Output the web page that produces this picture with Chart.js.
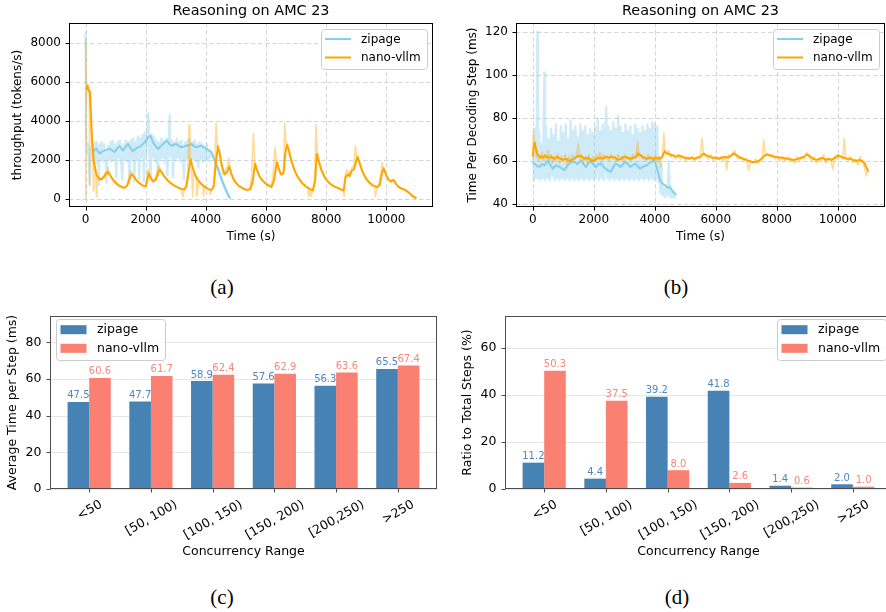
<!DOCTYPE html>
<html>
<head>
<meta charset="utf-8">
<script src="https://cdn.jsdelivr.net/npm/chart.js@4.4.1/dist/chart.umd.min.js"></script>
<style>
  html, body { margin: 0; padding: 0; background: #fff; overflow: hidden; }
  #fig { position: relative; width: 886px; height: 612px; overflow: hidden; background: #fff; }
  #fig canvas { position: absolute; }
  .cap { position: absolute; font-family: "Liberation Serif", "Times New Roman", serif; font-size: 21px;
         color: #000; transform: translate(-50%, -50%); line-height: 1; }
</style>
</head>
<body>
<div id="fig">
  <canvas id="thr" width="443" height="250" style="left:0;top:0"></canvas>
  <canvas id="step" width="443" height="250" style="left:443px;top:0"></canvas>
  <canvas id="avg" width="443" height="270" style="left:0;top:300px"></canvas>
  <canvas id="share" width="460" height="270" style="left:443px;top:300px"></canvas>
  <div class="cap" style="left:222px;top:287px">(a)</div>
  <div class="cap" style="left:676px;top:287px">(b)</div>
  <div class="cap" style="left:222px;top:597px">(c)</div>
  <div class="cap" style="left:677px;top:597px">(d)</div>
</div>
<script>
// ---------- throughput (tokens/s) over time (s) ----------
const zipThrRaw = [[0,8600],[20,3200],[50,2300],[80,2800],[110,1900],[140,700],[170,2600],[200,2000],[230,2900],[260,1900],[290,2800],[320,2100],[350,2900],[380,1800],[410,2700],[440,700],[470,2800],[500,2000],[540,2900],[580,1900],[620,2800],[660,2100],[700,800],[740,2700],[780,2000],[820,2900],[860,1900],[900,3000],[940,2000],[980,2800],[1020,1100],[1060,2900],[1100,2100],[1140,3000],[1180,1900],[1220,1000],[1260,2800],[1300,2000],[1340,3000],[1380,1900],[1420,2900],[1460,800],[1500,3000],[1540,2000],[1580,3100],[1620,900],[1660,2900],[1700,2000],[1740,3200],[1780,1000],[1820,3100],[1860,2100],[1900,3300],[1940,900],[1980,3400],[2020,2200],[2060,3800],[2090,4400],[2120,2300],[2160,900],[2200,3300],[2240,2100],[2280,3200],[2320,1900],[2360,3000],[2400,1200],[2440,2900],[2480,2000],[2520,3100],[2560,2100],[2600,3000],[2640,1900],[2680,3100],[2720,1200],[2760,2900],[2800,4300],[2830,2100],[2870,3000],[2910,1100],[2950,2900],[2990,2000],[3030,3100],[3070,2100],[3110,2900],[3150,1900],[3190,3000],[3230,2100],[3270,1000],[3310,2900],[3350,2000],[3390,3000],[3430,2100],[3470,3100],[3510,1900],[3550,2900],[3590,2000],[3630,3000],[3670,1900],[3710,2800],[3750,1600],[3790,2900],[3830,2000],[3870,2800],[3910,1900],[3950,2700],[3990,2000],[4030,2800],[4070,1900],[4110,2500],[4150,2100],[4200,2300],[4300,1900],[4400,1500],[4500,1000],[4600,600],[4700,250],[4800,0]];
const zipThrSmooth = [[200,2400],[244,2380],[300,2500],[356,2570],[410,2450],[467,2330],[550,2420],[633,2470],[720,2520],[800,2570],[880,2480],[967,2400],[1050,2560],[1133,2720],[1244,2470],[1330,2650],[1411,2810],[1500,2600],[1578,2430],[1660,2560],[1744,2640],[1830,2700],[1911,2810],[2000,2950],[2078,3160],[2156,3240],[2244,2890],[2330,2700],[2411,2550],[2500,2700],[2578,2810],[2640,2900],[2711,2980],[2780,2820],[2856,2720],[2940,2780],[3022,2810],[3100,2700],[3189,2640],[3270,2680],[3356,2720],[3440,2760],[3522,2810],[3600,2700],[3689,2640],[3770,2690],[3856,2720],[3940,2620],[4022,2550],[4100,2480],[4189,2380],[4300,1950],[4380,1650],[4467,1270],[4550,900],[4633,580],[4720,280],[4800,0]];
const nanoThrRaw = [[0,0],[8,8200],[25,4800],[50,5900],[75,5500],[100,5800],[125,5400],[135,700],[150,5500],[180,4300],[210,3300],[240,2400],[260,400],[280,2000],[310,1600],[340,1300],[360,100],[380,1200],[420,1100],[460,950],[500,1050],[540,950],[580,1150],[620,1050],[660,1350],[700,1200],[744,1600],[790,1250],[840,1150],[900,900],[960,850],[1020,750],[1080,700],[1140,620],[1200,650],[1260,550],[1320,600],[1380,700],[1440,1100],[1500,1450],[1540,1300],[1600,1150],[1660,1050],[1720,850],[1800,800],[1860,700],[1930,650],[2000,600],[2040,1200],[2080,1500],[2120,1200],[2180,1050],[2240,850],[2300,1000],[2360,1300],[2440,1700],[2490,1400],[2550,1300],[2620,1100],[2700,1000],[2780,850],[2860,750],[2940,700],[3020,600],[3100,550],[3180,500],[3240,80],[3280,500],[3340,700],[3400,1500],[3440,3800],[3470,2100],[3520,1900],[3560,100],[3600,1400],[3680,1100],[3700,100],[3760,900],[3840,750],[3900,650],[3920,150],[3980,600],[4060,500],[4120,450],[4150,200],[4200,500],[4260,700],[4300,1900],[4340,3900],[4380,2600],[4440,2500],[4500,1800],[4560,1300],[4620,1200],[4660,1500],[4720,1700],[4760,2100],[4800,1500],[4860,1200],[4920,900],[4990,800],[5060,700],[5140,600],[5220,550],[5300,500],[5380,400],[5450,500],[5520,1100],[5580,3350],[5620,1900],[5680,1600],[5740,1300],[5820,1000],[5900,900],[5980,750],[6060,700],[6140,600],[6220,1000],[6300,2650],[6340,2000],[6400,1800],[6460,1300],[6520,1200],[6580,1400],[6620,3900],[6660,2900],[6700,2800],[6760,2600],[6820,2100],[6900,1700],[6980,1300],[7060,1100],[7140,900],[7220,750],[7300,650],[7380,550],[7420,100],[7470,500],[7500,120],[7560,450],[7620,1200],[7660,3800],[7700,2400],[7760,2000],[7820,1600],[7900,1300],[7980,1000],[8060,900],[8140,750],[8220,700],[8300,600],[8400,550],[8480,500],[8560,450],[8600,100],[8640,1300],[8680,1500],[8720,1200],[8760,1400],[8800,1200],[8860,1600],[8920,1700],[8970,2700],[9010,2200],[9060,2000],[9120,1700],[9200,1400],[9280,1100],[9360,900],[9440,800],[9520,700],[9600,650],[9640,100],[9700,600],[9760,800],[9820,1300],[9860,1850],[9900,1500],[9960,1400],[10020,1100],[10080,1000],[10140,900],[10200,1000],[10260,950],[10320,750],[10400,650],[10480,550],[10560,500],[10640,450],[10720,350],[10800,250],[10880,150],[10960,60],[11000,30]];
const nanoThrSmooth = [[30,5600],[60,5800],[100,5600],[140,5500],[170,4600],[200,3500],[240,2500],[300,1700],[360,1250],[430,1050],[500,980],[580,1050],[660,1250],[744,1380],[800,1250],[880,1050],[980,850],[1100,680],[1200,600],[1300,560],[1380,650],[1450,950],[1522,1250],[1580,1200],[1660,1000],[1780,800],[1900,680],[2000,640],[2060,1000],[2100,1300],[2160,1100],[2240,900],[2330,950],[2400,1250],[2467,1500],[2530,1350],[2620,1150],[2720,950],[2830,800],[2940,680],[3060,580],[3180,500],[3280,470],[3350,600],[3420,1300],[3489,2040],[3540,1700],[3620,1300],[3720,1000],[3830,780],[3950,620],[4070,500],[4180,440],[4260,600],[4330,1800],[4400,2690],[4450,2400],[4530,1700],[4620,1250],[4700,1350],[4778,1660],[4840,1300],[4940,950],[5060,700],[5200,550],[5340,450],[5480,480],[5560,900],[5633,1800],[5690,1500],[5780,1150],[5900,900],[6040,720],[6180,600],[6260,900],[6356,1870],[6410,1600],[6500,1250],[6580,1300],[6640,2300],[6690,2780],[6750,2500],[6850,1900],[6960,1400],[7080,1050],[7200,800],[7330,620],[7450,500],[7560,430],[7630,900],[7689,2300],[7740,2000],[7830,1500],[7950,1100],[8080,830],[8220,660],[8380,550],[8520,450],[8580,420],[8640,1100],[8720,1250],[8780,1150],[8850,1450],[8920,1500],[8990,1900],[9044,2150],[9100,1900],[9200,1400],[9320,1050],[9450,800],[9580,650],[9700,600],[9780,700],[9850,1300],[9911,1560],[9970,1300],[10060,1000],[10150,880],[10244,950],[10300,800],[10400,600],[10500,520],[10620,450],[10750,300],[10880,120],[11000,20]];

// ---------- time per decoding step (ms) over time (s) ----------
const zipStepRaw = [[0,59],[20,62],[40,51],[80,75],[120,52],[150,120],[170,52],[210,74],[250,51],[290,68],[330,52],[380,101],[400,51],[440,76],[480,52],[520,70],[560,51],[600,75],[640,53],[680,72],[720,51],[760,77],[800,52],[840,69],[880,51],[920,76],[960,52],[1000,73],[1040,51],[1080,77],[1120,52],[1160,70],[1200,51],[1240,79],[1280,52],[1320,74],[1360,51],[1400,76],[1440,52],[1480,71],[1520,51],[1560,77],[1600,52],[1640,74],[1680,51],[1720,76],[1760,52],[1800,72],[1840,51],[1880,75],[1920,52],[1960,73],[2000,51],[2040,76],[2080,52],[2130,80],[2170,51],[2210,74],[2250,52],[2290,77],[2330,51],[2370,73],[2410,85],[2440,52],[2480,76],[2520,51],[2560,74],[2600,52],[2640,78],[2680,51],[2720,75],[2760,52],[2800,81],[2840,51],[2880,76],[2920,52],[2960,73],[3000,51],[3040,77],[3080,52],[3120,74],[3160,51],[3200,76],[3240,52],[3280,72],[3320,51],[3360,77],[3400,52],[3440,75],[3480,51],[3520,73],[3560,52],[3600,76],[3640,51],[3680,74],[3720,52],[3760,77],[3800,51],[3840,75],[3880,52],[3920,78],[3960,51],[4000,77],[4040,52],[4080,76],[4120,50],[4150,62],[4180,45],[4220,58],[4260,44],[4300,47],[4340,43],[4380,48],[4420,44],[4460,60],[4500,43],[4540,47],[4580,43],[4620,46],[4660,43],[4700,45]];
const zipStepSmooth = [[0,59],[65,58.8],[150,57.5],[227,57.2],[300,58.5],[389,58],[497,60.3],[580,58],[660,56.4],[760,58],[876,57.2],[960,56.5],[1038,55.7],[1120,57.5],[1200,58.8],[1280,59.5],[1362,59.6],[1460,58.5],[1578,60.3],[1660,58.5],[1740,57.2],[1820,59],[1903,60.3],[1980,58.5],[2065,57.2],[2150,58.5],[2227,58.8],[2310,57.5],[2389,56.4],[2470,55.5],[2551,54.9],[2630,57],[2714,58.8],[2800,58],[2876,57.2],[2960,58.5],[3038,59.6],[3120,58.5],[3200,57.2],[3280,58],[3362,58.8],[3440,57.5],[3524,56.4],[3630,57.5],[3741,58],[3820,59],[3903,59.6],[3980,60.5],[4065,57.2],[4120,54],[4173,51],[4250,49.5],[4335,48.7],[4420,47.5],[4497,47.9],[4580,46],[4659,44.8],[4700,44.5]];
const nanoStepRaw = [[0,62],[20,74],[50,66],[80,69],[110,62],[140,65],[180,60],[220,63],[260,61],[300,64],[350,60],[400,63],[450,61],[500,65],[550,60],[600,63],[650,59],[700,62],[760,60],[820,63],[880,59],[940,62],[1000,60],[1060,63],[1120,58],[1180,62],[1240,60],[1300,63],[1360,61],[1420,62],[1500,68],[1540,61],[1600,63],[1660,59],[1720,62],[1780,60],[1840,63],[1900,59],[1960,62],[2020,60],[2080,63],[2140,61],[2200,64],[2260,60],[2320,63],[2380,61],[2440,62],[2500,60],[2560,63],[2620,61],[2680,62],[2740,60],[2800,63],[2860,61],[2920,62],[2980,60],[3040,63],[3100,61],[3160,62],[3220,60],[3280,63],[3340,61],[3400,64],[3440,69],[3480,62],[3540,63],[3600,61],[3660,62],[3720,60],[3780,63],[3840,61],[3900,62],[3960,60],[4020,63],[4080,60],[4140,62],[4200,57],[4260,65],[4300,73],[4340,64],[4400,63],[4460,65],[4520,62],[4600,63],[4680,61],[4760,63],[4840,61],[4920,62],[5000,60],[5080,62],[5160,61],[5240,62],[5320,60],[5400,62],[5480,61],[5550,70.5],[5600,63],[5680,62],[5760,61],[5840,63],[5920,60],[6000,62],[6080,61],[6160,62],[6240,60],[6300,62],[6360,56],[6420,63],[6500,62],[6560,64],[6620,65],[6680,62],[6760,61],[6840,62],[6920,60],[7000,61],[7080,55.5],[7140,60],[7220,59],[7300,61],[7380,59],[7460,60],[7540,62],[7568,70],[7620,64],[7700,63],[7780,62],[7860,63],[7940,61],[8020,62],[8100,60],[8180,62],[8260,60],[8340,62],[8420,60],[8500,61],[8580,59],[8660,62],[8740,60],[8820,62],[8900,61],[8980,64],[9060,62],[9140,60],[9220,62],[9300,59],[9380,61],[9460,60],[9540,63],[9620,59],[9700,61],[9780,60],[9838,56],[9900,62],[9960,61],[10020,63],[10100,62],[10160,61],[10216,70.5],[10260,62],[10340,60],[10420,62],[10500,59],[10580,61],[10660,58],[10740,62],[10820,59],[10880,57],[10940,53],[11000,56]];
const nanoStepSmooth = [[0,62],[30,66],[60,68.5],[100,66],[150,63],[220,62],[300,61.5],[400,62.5],[500,61.5],[600,62],[700,61],[800,62],[900,61],[1000,60.5],[1100,61],[1200,60],[1300,60.5],[1400,61.5],[1500,62.5],[1600,62],[1700,61],[1800,61.5],[1900,60.5],[2000,60],[2100,61],[2200,61.5],[2300,61],[2400,62],[2500,61.5],[2600,62],[2700,61.5],[2800,60.5],[2900,61],[3000,62],[3100,61.5],[3200,61],[3300,61.5],[3400,62],[3450,63.5],[3550,62.5],[3650,61.5],[3750,61],[3850,61.5],[3950,61],[4050,61.5],[4150,61],[4250,62],[4320,64.5],[4400,63.5],[4500,63],[4600,62.5],[4700,62],[4800,62.5],[4900,62],[5000,61.5],[5100,61],[5200,61.5],[5300,61],[5400,61.5],[5500,62],[5600,63.5],[5700,62.5],[5800,62],[5900,61.5],[6000,61.5],[6100,61],[6200,61.5],[6300,62],[6400,61.5],[6500,62.5],[6600,63.5],[6700,62.5],[6800,61.5],[6900,61],[7000,60.5],[7100,60],[7200,59.5],[7300,59.5],[7400,60],[7500,61],[7600,62.5],[7700,63],[7800,62.5],[7900,62],[8000,62],[8100,61.5],[8200,61.5],[8300,61],[8400,61],[8500,60.5],[8600,60.5],[8700,61],[8800,61.5],[8900,62],[9000,63],[9100,62],[9200,61],[9300,60.5],[9400,61],[9500,61.5],[9600,60.5],[9700,61],[9800,60.5],[9900,61.5],[10000,62.5],[10100,62],[10200,61.5],[10300,61],[10400,61],[10500,60.5],[10600,60],[10700,60.5],[10800,60],[10880,59],[10940,57],[11000,55]];

// ---------- per concurrency range ----------
const ranges = ['<50', '[50, 100)', '[100, 150)', '[150, 200)', '[200,250)', '>250'];
const zipAvgStep = [47.5, 47.7, 58.9, 57.6, 56.3, 65.5];
const nanoAvgStep = [60.6, 61.7, 62.4, 62.9, 63.6, 67.4];
const zipShare = [11.2, 4.4, 39.2, 41.8, 1.4, 2.0];
const nanoShare = [50.3, 37.5, 8.0, 2.6, 0.6, 1.0];

// ---------- tick values ----------
const timeTicks = [0, 2000, 4000, 6000, 8000, 10000];
const thrTicks = [0, 2000, 4000, 6000, 8000];
const stepTicks = [40, 60, 80, 100, 120];
const avgTicks = [0, 20, 40, 60, 80];
const shareTicks = [0, 20, 40, 60];

const FONT = '"DejaVu Sans", "Liberation Sans", sans-serif';
const ZIP = '#87CEEB', ZIP_FADED = 'rgba(135,206,235,0.4)';
const NANO = '#FFA500', NANO_FADED = 'rgba(255,165,0,0.4)';
const STEEL = '#4682B4', SALMON = '#FA8072';

Chart.defaults.font.family = FONT;
Chart.defaults.color = '#000';

const pts = arr => arr.map(([x, y]) => ({ x, y }));
const snap = v => Math.round(v) + 0.5;

function roundBox(ctx, x, y, w, h, r) {
  ctx.beginPath();
  ctx.moveTo(x + r, y);
  ctx.lineTo(x + w - r, y); ctx.arcTo(x + w, y, x + w, y + r, r);
  ctx.lineTo(x + w, y + h - r); ctx.arcTo(x + w, y + h, x + w - r, y + h, r);
  ctx.lineTo(x + r, y + h); ctx.arcTo(x, y + h, x, y + h - r, r);
  ctx.lineTo(x, y + r); ctx.arcTo(x, y, x + r, y, r);
  ctx.closePath();
}

// grid, spines, tick marks, legend, titles and bar annotations
const decor = {
  id: 'decor',
  beforeDatasetsDraw(chart, args, o) {
    const { ctx, chartArea: a, scales: { x, y } } = chart;
    ctx.save();
    ctx.lineWidth = 1;
    ctx.strokeStyle = o.gridColor;
    ctx.setLineDash(o.gridDash || []);
    ctx.beginPath();
    if (o.gridX) x.ticks.forEach(t => { const p = snap(x.getPixelForValue(t.value)); ctx.moveTo(p, a.top); ctx.lineTo(p, a.bottom); });
    y.ticks.forEach(t => { const p = snap(y.getPixelForValue(t.value)); ctx.moveTo(a.left, p); ctx.lineTo(a.right, p); });
    ctx.stroke();
    ctx.restore();
  },
  afterDatasetsDraw(chart, args, o) {
    const { ctx, chartArea: a, scales: { x, y } } = chart;
    const L = Math.round(a.left) + 0.5, R = Math.round(a.right) - 0.5;
    const T = Math.round(a.top) + 0.5, B = Math.round(a.bottom) - 0.5;
    ctx.save();
    // spines
    ctx.strokeStyle = o.spine; ctx.lineWidth = 1; ctx.setLineDash([]);
    ctx.strokeRect(L, T, R - L, B - T);
    // tick marks
    ctx.beginPath();
    const xt = o.catLabels ? o.catLabels.map((_, i) => i) : x.ticks.map(t => t.value);
    xt.forEach(v => { const p = snap(x.getPixelForValue(v)); ctx.moveTo(p, B); ctx.lineTo(p, B + 4); });
    y.ticks.forEach(t => { const p = snap(y.getPixelForValue(t.value)); ctx.moveTo(L, p); ctx.lineTo(L - 4, p); });
    ctx.stroke();

    // value labels above bars
    if (o.valueLabels) {
      ctx.font = `10px ${FONT}`;
      ctx.textAlign = 'center'; ctx.textBaseline = 'alphabetic';
      chart.data.datasets.forEach((ds, di) => {
        ctx.fillStyle = ds.labelColor;
        chart.getDatasetMeta(di).data.forEach((bar, i) => {
          ctx.fillText(ds.data[i].y.toFixed(1), bar.x, bar.y - 3.5);
        });
      });
    }

    // rotated category labels
    if (o.catLabels) {
      const fs = o.fontSize;
      ctx.font = `${fs}px ${FONT}`;
      ctx.fillStyle = '#000';
      ctx.textAlign = 'center'; ctx.textBaseline = 'alphabetic';
      const ang = 30 * Math.PI / 180;
      const top = B + 8;
      o.catLabels.forEach((lab, i) => {
        const w = ctx.measureText(lab).width, h = fs * 1.164;
        const H = w * Math.sin(ang) + h * Math.cos(ang);
        const cx = x.getPixelForValue(i), cy = top + H / 2;
        ctx.save();
        ctx.translate(cx, cy);
        ctx.rotate(-ang);
        ctx.fillText(lab, 0, fs * 0.346);
        ctx.restore();
      });
    }

    // title
    if (o.title) {
      ctx.font = `14.4px ${FONT}`;
      ctx.fillStyle = '#000';
      ctx.textAlign = 'center'; ctx.textBaseline = 'alphabetic';
      ctx.fillText(o.title, (a.left + a.right) / 2, o.titleY);
    }

    // legend
    const lg = o.legend;
    if (lg) {
      roundBox(ctx, lg.x + 0.5, lg.y + 0.5, lg.w, lg.h, 3);
      ctx.fillStyle = 'rgba(255,255,255,0.8)';
      ctx.fill();
      ctx.strokeStyle = '#cccccc'; ctx.lineWidth = 1;
      ctx.stroke();
      ctx.font = `${lg.fs}px ${FONT}`;
      ctx.textAlign = 'left'; ctx.textBaseline = 'middle';
      lg.items.forEach((it, i) => {
        const cy = lg.rows[i];
        if (lg.kind === 'line') {
          ctx.strokeStyle = it.color; ctx.lineWidth = 2;
          ctx.beginPath(); ctx.moveTo(lg.hx0, cy); ctx.lineTo(lg.hx1, cy); ctx.stroke();
        } else {
          ctx.fillStyle = it.color;
          ctx.fillRect(lg.hx0, cy - 4.5, lg.hx1 - lg.hx0, 9);
        }
        ctx.fillStyle = '#000';
        ctx.fillText(it.label, lg.tx, cy + 0.5);
      });
    }
    ctx.restore();
  }
};

function lineChart(id, c) {
  const canvas = document.getElementById(id);
  const W = canvas.width, H = canvas.height;
  return new Chart(canvas, {
    type: 'line',
    data: {
      datasets: [
        { label: 'zipage', data: pts(c.zipRaw), borderColor: ZIP_FADED, borderWidth: 2.3, order: 4 },
        { label: 'zipage', data: pts(c.zipSmooth), borderColor: ZIP, borderWidth: 2, order: 3 },
        { label: 'nano-vllm', data: pts(c.nanoRaw), borderColor: NANO_FADED, borderWidth: 1.6, order: 2 },
        { label: 'nano-vllm', data: pts(c.nanoSmooth), borderColor: NANO, borderWidth: 2, order: 1 }
      ]
    },
    options: {
      responsive: false, animation: false, events: [],
      layout: { padding: { left: 0, top: c.area.top, right: W - c.area.right, bottom: 0 } },
      elements: { point: { radius: 0 }, line: { tension: 0, fill: false, borderJoinStyle: 'round', borderCapStyle: 'butt' } },
      plugins: {
        legend: { display: false }, tooltip: { enabled: false },
        decor: {
          gridColor: '#d6d6d6', gridDash: [4.5, 2.5], gridX: true, spine: '#000',
          title: 'Reasoning on AMC 23', titleY: 15,
          legend: {
            kind: 'line', fs: 12, x: c.legendX, y: 29, w: 106, h: 40, rows: [39, 57.5],
            hx0: c.legendX + 4, hx1: c.legendX + 30, tx: c.legendX + 40,
            items: [{ label: 'zipage', color: ZIP }, { label: 'nano-vllm', color: NANO }]
          }
        }
      },
      scales: {
        x: {
          type: 'linear', min: -550, max: 11550,
          afterFit: s => { s.height = H - c.area.bottom; },
          afterBuildTicks: s => { s.ticks = timeTicks.map(v => ({ value: v })); },
          grid: { display: false, drawTicks: false }, border: { display: false },
          ticks: { padding: 6, maxRotation: 0, autoSkip: false, color: '#000', font: { size: 12 }, callback: v => String(v) },
          title: { display: true, text: 'Time (s)', color: '#000', font: { size: 12 }, padding: { top: 0, bottom: 5.8 } }
        },
        y: {
          type: 'linear', min: c.yMin, max: c.yMax,
          afterFit: s => { s.width = c.area.left; },
          afterBuildTicks: s => { s.ticks = c.yTicks.map(v => ({ value: v })); },
          grid: { display: false, drawTicks: false }, border: { display: false },
          ticks: { padding: 8, autoSkip: false, color: '#000', font: { size: 12 }, callback: v => String(v) },
          title: { display: true, text: c.yTitle, color: '#000', font: { size: 12 }, padding: { top: c.yTitlePad, bottom: 0 } }
        }
      }
    },
    plugins: [decor]
  });
}

function barChart(id, c) {
  const canvas = document.getElementById(id);
  const W = canvas.width, H = canvas.height;
  const toPts = vals => vals.map((v, i) => ({ x: i, y: v }));
  return new Chart(canvas, {
    type: 'bar',
    data: {
      datasets: [
        { label: 'zipage', data: toPts(c.zip), backgroundColor: STEEL, labelColor: '#4f87bd', borderWidth: 0, categoryPercentage: 0.7, barPercentage: 1.0 },
        { label: 'nano-vllm', data: toPts(c.nano), backgroundColor: SALMON, labelColor: '#f9877a', borderWidth: 0, categoryPercentage: 0.7, barPercentage: 1.0 }
      ]
    },
    options: {
      responsive: false, animation: false, events: [],
      layout: { padding: { left: 0, top: c.area.top, right: W - c.area.right, bottom: 0 } },
      plugins: {
        legend: { display: false }, tooltip: { enabled: false },
        decor: {
          gridColor: '#e6e6e6', gridDash: [], gridX: false, spine: '#4d4d4d',
          valueLabels: true, catLabels: ranges, fontSize: 12.5,
          legend: {
            kind: 'patch', fs: 12.5, x: c.legendX, y: 19, w: 109, h: 41, rows: [29.7, 48.3],
            hx0: c.legendX + 4.5, hx1: c.legendX + 30.5, tx: c.legendX + 41,
            items: [{ label: 'zipage', color: STEEL }, { label: 'nano-vllm', color: SALMON }]
          }
        }
      },
      scales: {
        x: {
          type: 'linear', min: -0.635, max: 5.635, offset: false,
          afterFit: s => { s.height = H - c.area.bottom; },
          afterBuildTicks: s => { s.ticks = ranges.map((_, i) => ({ value: i })); },
          grid: { display: false, drawTicks: false, offset: false }, border: { display: false },
          ticks: { display: false },
          title: { display: true, text: 'Concurrency Range', color: '#000', font: { size: 12.5 }, padding: { top: 0, bottom: 10.5 } }
        },
        y: {
          type: 'linear', min: 0, max: c.yMax,
          afterFit: s => { s.width = c.area.left; },
          afterBuildTicks: s => { s.ticks = c.yTicks.map(v => ({ value: v })); },
          grid: { display: false, drawTicks: false }, border: { display: false },
          ticks: { padding: 8.5, autoSkip: false, color: '#000', font: { size: 12.5 }, callback: v => String(v) },
          title: { display: true, text: c.yTitle, color: '#000', font: { size: 12.5 }, padding: { top: c.yTitlePad, bottom: 0 } }
        }
      }
    },
    plugins: [decor]
  });
}

lineChart('thr', {
  zipRaw: zipThrRaw, zipSmooth: zipThrSmooth, nanoRaw: nanoThrRaw, nanoSmooth: nanoThrSmooth,
  area: { left: 69, top: 23, right: 433, bottom: 207 },
  yMin: -430, yMax: 9030, yTicks: thrTicks,
  yTitle: 'throughput (tokens/s)', yTitlePad: 10.8, legendX: 321
});

lineChart('step', {
  zipRaw: zipStepRaw, zipSmooth: zipStepSmooth, nanoRaw: nanoStepRaw, nanoSmooth: nanoStepSmooth,
  area: { left: 73, top: 23, right: 442, bottom: 207 },
  yMin: 38.6, yMax: 124.1, yTicks: stepTicks,
  yTitle: 'Time Per Decoding Step (ms)', yTitlePad: 22.8, legendX: 330
});

barChart('avg', {
  zip: zipAvgStep, nano: nanoAvgStep,
  area: { left: 50, top: 13, right: 437, bottom: 189 },
  yMax: 94.4, yTicks: avgTicks, yTitle: 'Average Time per Step (ms)', yTitlePad: 5.5, legendX: 56
});

barChart('share', {
  zip: zipShare, nano: nanoShare,
  area: { left: 62, top: 13, right: 449, bottom: 189 },
  yMax: 73.6, yTicks: shareTicks, yTitle: 'Ratio to Total Steps (%)', yTitlePad: 17.5, legendX: 334
});
</script>
</body>
</html>
